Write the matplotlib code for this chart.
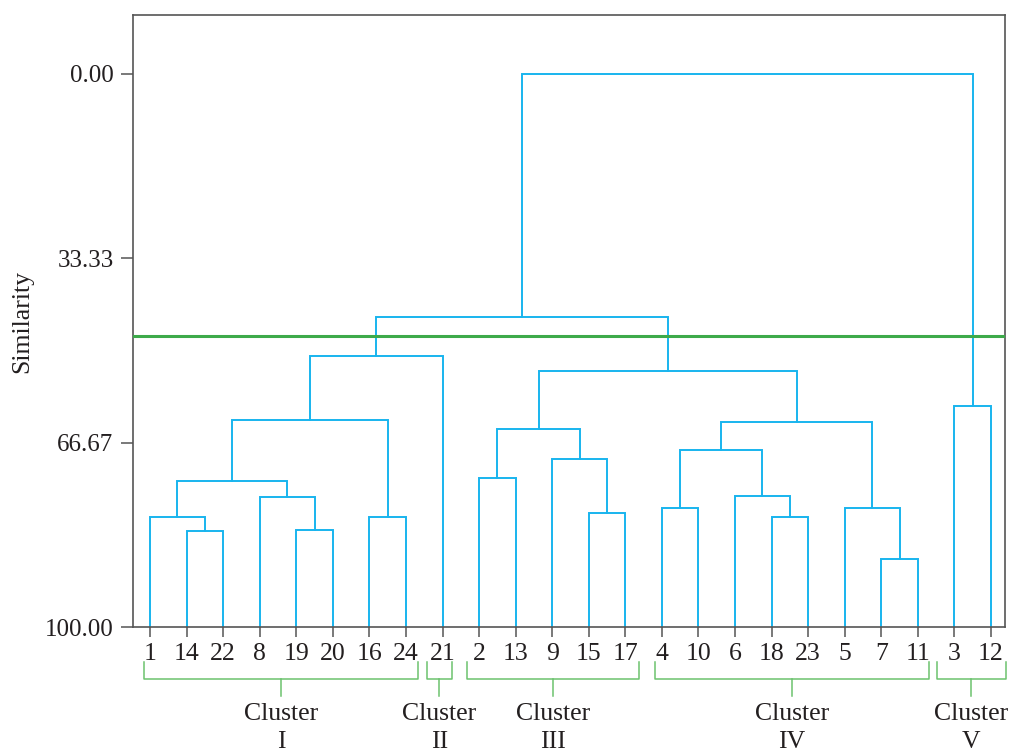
import matplotlib
matplotlib.use("Agg")
import matplotlib.pyplot as plt

# leaf order along the x axis
LEAF_LABELS = [1, 14, 22, 8, 19, 20, 16, 24, 21, 2, 13, 9, 15, 17,
               4, 10, 6, 18, 23, 5, 7, 11, 3, 12]

# linkage rows: ids < 24 are leaf positions, id 24 + k is row k
MERGE_LEFT = [1, 4, 0, 6, 3, 26, 29, 30, 9, 12, 11, 32,
              14, 17, 16, 36, 20, 19, 39, 35, 31, 22, 44]
MERGE_RIGHT = [2, 5, 24, 7, 25, 28, 27, 8, 10, 13, 33, 34,
               15, 18, 37, 38, 21, 40, 41, 42, 43, 23, 45]
MERGE_SIM = [82.65, 82.37, 80.07, 80.07, 76.45, 73.61, 62.53, 51.02,
             73.06, 79.40, 69.52, 64.08,
             78.35, 80.07, 76.20, 68.00, 87.70, 78.40, 62.86, 53.62,
             43.86, 60.00, 0.00]

CUT_SIM = 47.35

CLUSTER_NAMES = ["I", "II", "III", "IV", "V"]
CLUSTER_FIRST = [0, 8, 9, 14, 22]
CLUSTER_LAST = [7, 8, 13, 21, 23]

Y_TICKS = [0.0, 33.33, 66.67, 100.0]

LINK_COLOR = "#18B4EE"
CUT_COLOR = "#3DAA4A"
BRACKET_COLOR = "#6CC26E"
TEXT_COLOR = "#231F20"
FRAME_COLOR = "#555555"
# bracket overhang past the first / last leaf of each cluster
BRACKET_PAD = [(0.16, 0.33), (0.43, 0.26), (0.33, 0.37), (0.19, 0.30), (0.48, 0.41)]

plt.rcParams["font.family"] = ["Liberation Serif", "DejaVu Serif"]

fig = plt.figure(figsize=(10.13, 7.52), dpi=100)
ax = fig.add_axes([133 / 1013, 1 - 627.3 / 752, 872 / 1013, 612.3 / 752])

n = len(LEAF_LABELS)
node_x = list(range(n))
node_h = [100.0] * n
for a, b, h in zip(MERGE_LEFT, MERGE_RIGHT, MERGE_SIM):
    xa, xb = node_x[a], node_x[b]
    ax.plot([xa, xa, xb, xb], [node_h[a], h, h, node_h[b]],
            color=LINK_COLOR, lw=1.4, solid_joinstyle="miter", zorder=2)
    node_x.append((xa + xb) / 2)
    node_h.append(h)

ax.axhline(CUT_SIM, color=CUT_COLOR, lw=2.2, zorder=3)

ax.set_xlim(-17 / 36.57, n - 1 + 14 / 36.57)
ax.set_ylim(100, -10.66)
ax.set_xticks(range(n))
ax.set_xticklabels([str(v) for v in LEAF_LABELS])
ax.set_yticks(Y_TICKS)
ax.set_yticklabels([f"{v:.2f}" for v in Y_TICKS])
ax.tick_params(axis="x", direction="out", length=7, width=1.1, pad=4,
               labelsize=18.5, color=FRAME_COLOR, labelcolor=TEXT_COLOR)
ax.tick_params(axis="y", direction="out", length=9, width=1.1, pad=5,
               labelsize=18, color=FRAME_COLOR, labelcolor=TEXT_COLOR)
for spine in ax.spines.values():
    spine.set_color(FRAME_COLOR)
    spine.set_linewidth(1.2)

ax.set_ylabel("Similarity", fontsize=18.5, color=TEXT_COLOR, labelpad=8)

# cluster brackets under the leaf labels
trans = ax.get_xaxis_transform()
y_top, y_mid, y_stem = -0.0567, -0.0844, -0.112
for name, first, last, (pl, pr) in zip(CLUSTER_NAMES, CLUSTER_FIRST, CLUSTER_LAST, BRACKET_PAD):
    x0, x1 = first - pl, last + pr
    xc = (x0 + x1) / 2
    ax.plot([x0, x0, x1, x1], [y_top, y_mid, y_mid, y_top], transform=trans,
            color=BRACKET_COLOR, lw=1.1, clip_on=False)
    ax.plot([xc, xc], [y_mid, y_stem], transform=trans,
            color=BRACKET_COLOR, lw=1.1, clip_on=False)
    ax.text(xc, -0.124, f"Cluster\n{name}", transform=trans, ha="center", va="top",
            fontsize=18.5, color=TEXT_COLOR, linespacing=1.35)

fig.savefig("out.png", dpi=100)
